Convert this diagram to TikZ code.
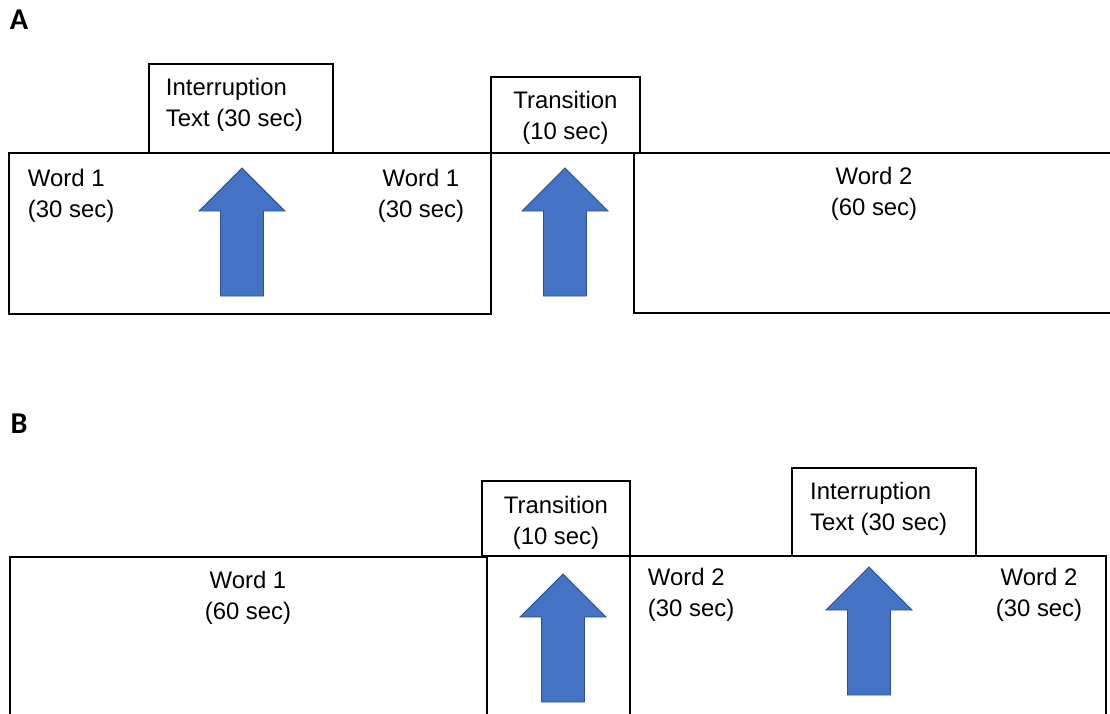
\documentclass[tikz,border=0pt]{standalone}
\usepackage{fontspec}
\setmainfont{Liberation Sans}
\newfontfamily\panelfont{Carlito}
\usepackage{tikz}
\definecolor{arrowblue}{HTML}{4472C4}
\definecolor{arrowedge}{HTML}{2F528F}
\tikzstyle{stage}=[draw, rectangle, line width=1.4pt,
    inner sep=0pt, outer sep=0pt]
\tikzstyle{lbl}=[font=\fontsize{17}{22}\selectfont, inner sep=0pt]
\tikzstyle{panel}=[font=\panelfont\bfseries\fontsize{21.5}{25}\selectfont, inner sep=0pt]
\tikzstyle{uparrow}=[fill=arrowblue, draw=arrowedge, line width=0.6pt]
\newcommand{\blockarrow}[2]{\filldraw[uparrow] (#1,#2) -- ++(43,43) -- ++(-21.5,0) -- ++(0,85) -- ++(-43,0) -- ++(0,-85) -- ++(-21.5,0) -- cycle;}

\begin{document}
\begin{tikzpicture}[x=0.025cm,y=-0.025cm,line width=1.4pt]
  \useasboundingbox (0,0) rectangle (1110,713);

  % panel A
  \node[panel] (A) at (19,20) {A};
  \draw (9,153) rectangle (491,314);
  \node[stage] at (241,108.5) (intA)[minimum width=4.6cm, minimum height=2.225cm] {};
  \node[lbl, anchor=west, align=left, xshift=0.4cm, yshift=0.1cm] at (intA.west) (intAtext) {Interruption\\Text (30 sec)};
  \node[stage] at (565.5,115) (transA)[minimum width=3.725cm, minimum height=1.9cm] {};
  \node[lbl, align=center, yshift=-0.08cm] at (transA.center) (transAtext) {Transition\\(10 sec)};
  \draw (1112,153) -- (634,153) -- (634,313) -- (1112,313);
  \node[lbl, anchor=west, align=left] at (27,195.5) (wordAa) {Word 1\\(30 sec)};
  \node[lbl, align=center] at (421,195.5) (wordAb) {Word 1\\(30 sec)};
  \node[lbl, align=center] at (874,193.5) (wordAc) {Word 2\\(60 sec)};
  \blockarrow{242}{168}
  \blockarrow{565}{168}

  % panel B
  \node[panel] (B) at (19,424) {B};
  \draw (10,715) -- (10,557) -- (487,557) -- (487,715);
  \node[stage] at (556,518.5) (transB)[minimum width=3.7cm, minimum height=1.875cm] {};
  \node[lbl, align=center, yshift=-0.1cm] at (transB.center) (transBtext) {Transition\\(10 sec)};
  \node[stage] at (884,512) (intB)[minimum width=4.6cm, minimum height=2.2cm] {};
  \node[lbl, anchor=west, align=left, xshift=0.43cm, yshift=0.09cm] at (intB.west) (intBtext) {Interruption\\Text (30 sec)};
  \draw (630,715) -- (630,556) -- (1106,556) -- (1106,715);
  \node[lbl, align=center] at (248,597.5) (wordBa) {Word 1\\(60 sec)};
  \node[lbl, anchor=west, align=left] at (647,595) (wordBb) {Word 2\\(30 sec)};
  \node[lbl, align=center] at (1039,595) (wordBc) {Word 2\\(30 sec)};
  \blockarrow{563}{574}
  \blockarrow{869}{567}
\end{tikzpicture}
\end{document}
